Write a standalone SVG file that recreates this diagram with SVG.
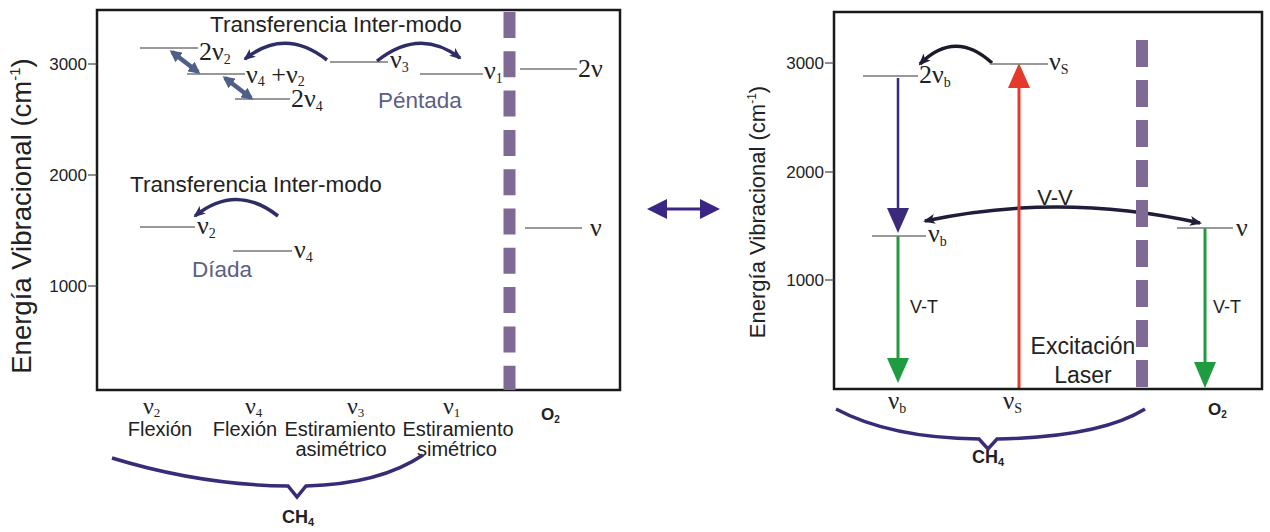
<svg xmlns="http://www.w3.org/2000/svg" width="1270" height="532" viewBox="0 0 1270 532">
<style>
.box{fill:none;stroke:#1a1a1a;stroke-width:2.5}
.tick{stroke:#444;stroke-width:1.2}
.lvl{stroke:#777;stroke-width:1.3}
.sans{font-family:"Liberation Sans",Arial,sans-serif;fill:#222}
.serif{font-family:"Liberation Serif","Times New Roman",serif;fill:#222}
.ax{font-size:17px;text-anchor:end}
.lv{font-size:26px}
.sub{font-size:14px}
.dash{stroke:#7e6a95;stroke-width:12;stroke-dasharray:26 13.3}
.arc{fill:none;stroke:#2f2d66;stroke-width:3.5}
.dbl{stroke:#4f5f88;stroke-width:4.5}
.brace{fill:none;stroke:#3a2a78;stroke-width:3.5;stroke-linejoin:miter}
.group{fill:#5b6084;font-size:22.5px}
</style>
<defs>
<marker id="ah" markerUnits="userSpaceOnUse" viewBox="0 0 12 10" markerWidth="12" markerHeight="10" refX="10" refY="5" orient="auto-start-reverse">
<path d="M0,0 L12,5 L0,10 L3,5 z" fill="#2f2d66"/>
</marker>
<marker id="ahk" markerUnits="userSpaceOnUse" viewBox="0 0 12 10" markerWidth="12" markerHeight="10" refX="10" refY="5" orient="auto-start-reverse">
<path d="M0,0 L12,5 L0,10 L3,5 z" fill="#1f1d3a"/>
</marker>
<marker id="sb" markerUnits="userSpaceOnUse" viewBox="0 0 12 12" markerWidth="12" markerHeight="12" refX="9" refY="6" orient="auto-start-reverse">
<path d="M0,0 L12,6 L0,12 z" fill="#4f5f88"/>
</marker>
</defs>

<!-- LEFT PANEL -->
<g id="left-axes">
<rect class="box" x="97" y="10" width="523" height="380"/>
<line class="tick" x1="88" y1="64" x2="97" y2="64"/>
<line class="tick" x1="88" y1="175" x2="97" y2="175"/>
<line class="tick" x1="88" y1="286" x2="97" y2="286"/>
<text class="sans ax" x="87" y="70">3000</text>
<text class="sans ax" x="87" y="181">2000</text>
<text class="sans ax" x="87" y="292">1000</text>
<text class="sans" font-size="27.5" text-anchor="middle" transform="translate(31,216) rotate(-90)">Energía Vibracional (cm<tspan font-size="15" dy="-11">-1</tspan><tspan dy="11">)</tspan></text>
<line class="dash" x1="509.5" y1="12" x2="509.5" y2="390"/>
</g>

<g id="left-levels">
<line class="lvl" x1="140" y1="48" x2="198" y2="48"/>
<text class="serif lv" x="199" y="60">2ν<tspan class="sub" dy="4">2</tspan></text>
<line class="lvl" x1="187" y1="74" x2="245" y2="74"/>
<text class="serif lv" x="246" y="83">ν<tspan class="sub" dy="3">4</tspan><tspan dy="-3"> +ν</tspan><tspan class="sub" dy="3">2</tspan></text>
<line class="lvl" x1="235" y1="99" x2="290" y2="99"/>
<text class="serif lv" x="291" y="107">2ν<tspan class="sub" dy="4">4</tspan></text>
<line class="lvl" x1="330" y1="62" x2="388" y2="62"/>
<text class="serif lv" x="390" y="68">ν<tspan class="sub" dy="4">3</tspan></text>
<line class="lvl" x1="420" y1="74" x2="483" y2="74"/>
<text class="serif lv" x="484" y="79">ν<tspan class="sub" dy="4">1</tspan></text>
<line class="lvl" x1="520" y1="69" x2="577" y2="69"/>
<text class="serif lv" x="578" y="77">2ν</text>
<line class="lvl" x1="525" y1="228" x2="582" y2="228"/>
<text class="serif lv" x="590" y="236">ν</text>
<line class="lvl" x1="140" y1="227" x2="195" y2="227"/>
<text class="serif lv" x="197" y="234">ν<tspan class="sub" dy="4">2</tspan></text>
<line class="lvl" x1="233" y1="251" x2="292" y2="251"/>
<text class="serif lv" x="294" y="258">ν<tspan class="sub" dy="4">4</tspan></text>
</g>

<g id="left-labels">
<text class="sans" x="210" y="32" font-size="22.5">Transferencia Inter-modo</text>
<text class="sans group" x="378" y="108">Péntada</text>
<text class="sans" x="130" y="192" font-size="22.5">Transferencia Inter-modo</text>
<text class="sans group" x="192" y="277">Díada</text>
</g>

<g id="left-bottom">
<text class="serif" font-size="24" x="143" y="414">ν<tspan font-size="13" dy="3">2</tspan></text>
<text class="sans" x="160" y="436" font-size="20" text-anchor="middle">Flexión</text>
<text class="serif" font-size="24" x="245" y="414">ν<tspan font-size="13" dy="3">4</tspan></text>
<text class="sans" x="245" y="436" font-size="20" text-anchor="middle">Flexión</text>
<text class="serif" font-size="24" x="347" y="414">ν<tspan font-size="13" dy="3">3</tspan></text>
<text class="sans" x="340" y="436" font-size="20" text-anchor="middle">Estiramiento</text>
<text class="sans" x="341" y="456" font-size="20" text-anchor="middle">asimétrico</text>
<text class="serif" font-size="24" x="443" y="414">ν<tspan font-size="13" dy="3">1</tspan></text>
<text class="sans" x="458" y="436" font-size="20" text-anchor="middle">Estiramiento</text>
<text class="sans" x="457" y="456" font-size="20" text-anchor="middle">simétrico</text>
<text class="sans" x="541" y="420" font-size="17" font-weight="bold">O<tspan font-size="10" dy="3">2</tspan></text>
<text class="sans" x="282" y="523" font-size="18" font-weight="bold">CH<tspan font-size="11" dy="3">4</tspan></text>
</g>

<g id="connectors">
<path class="arc" d="M 327 60 Q 285 27 245 59" marker-end="url(#ah)"/>
<path class="arc" d="M 377 61 Q 420 27 460 58" marker-end="url(#ah)"/>
<path class="arc" d="M 278 216 Q 236 183 195 216" marker-end="url(#ah)"/>
<line class="dbl" x1="172" y1="52" x2="198" y2="72" marker-start="url(#sb)" marker-end="url(#sb)"/>
<line class="dbl" x1="225" y1="78" x2="251" y2="98" marker-start="url(#sb)" marker-end="url(#sb)"/>
<path class="brace" d="M 112 458 Q 200 485 288 486 L 297 497 L 306 486 Q 380 484 423 455"/>
<path d="M 647 209 L 667 199 L 667 207.5 L 700 207.5 L 700 199 L 720 209 L 700 219 L 700 210.5 L 667 210.5 L 667 219 z" fill="#3b2585"/>
<path fill="none" stroke="#1a1a2a" stroke-width="3.5" d="M 992 63 Q 955 29 920 64" marker-end="url(#ahk)"/>
<path fill="none" stroke="#1f1d3a" stroke-width="3.5" d="M 925 221 Q 1060 192 1200 223" marker-start="url(#ahk)" marker-end="url(#ahk)"/>
<line x1="1019" y1="388" x2="1019" y2="84" stroke="#e53a2a" stroke-width="3"/>
<polygon points="1019,63 1030,88 1008,88" fill="#e53a2a"/>
<line x1="898" y1="78" x2="898" y2="212" stroke="#3b2a7a" stroke-width="2.5"/>
<polygon points="887,208 909,208 898,233" fill="#3b2a7a"/>
<line x1="898" y1="236" x2="898" y2="362" stroke="#1f9b40" stroke-width="3"/>
<polygon points="887,358 909,358 898,383" fill="#1f9b40"/>
<line x1="1205" y1="228" x2="1205" y2="364" stroke="#1f9b40" stroke-width="3"/>
<polygon points="1194,362 1216,362 1205,388" fill="#1f9b40"/>
<path class="brace" d="M 836 409 Q 890 438 979 439 L 988 449 L 997 439 Q 1100 437 1145 409"/>
</g>

<!-- RIGHT PANEL -->
<g id="right-axes">
<rect class="box" x="834" y="12" width="428" height="377"/>
<line class="tick" x1="825" y1="63" x2="834" y2="63"/>
<line class="tick" x1="825" y1="172" x2="834" y2="172"/>
<line class="tick" x1="825" y1="280" x2="834" y2="280"/>
<text class="sans ax" x="824" y="69">3000</text>
<text class="sans ax" x="824" y="178">2000</text>
<text class="sans ax" x="824" y="286">1000</text>
<text class="sans" font-size="22" text-anchor="middle" transform="translate(765,212) rotate(-90)">Energía Vibracional (cm<tspan font-size="12" dy="-9">-1</tspan><tspan dy="9">)</tspan></text>
<line class="dash" x1="1142" y1="40" x2="1142" y2="388" style="stroke-dasharray:27 13"/>
</g>

<g id="right-levels">
<line class="lvl" x1="863" y1="76" x2="918" y2="76"/>
<text class="serif lv" x="919" y="83">2ν<tspan class="sub" dy="4">b</tspan></text>
<line class="lvl" x1="990" y1="64" x2="1048" y2="64"/>
<text class="serif lv" x="1049" y="70">ν<tspan class="sub" dy="4">S</tspan></text>
<line class="lvl" x1="872" y1="236" x2="926" y2="236"/>
<text class="serif lv" x="928" y="242">ν<tspan class="sub" dy="4">b</tspan></text>
<line class="lvl" x1="1177" y1="228" x2="1233" y2="228"/>
<text class="serif lv" x="1236" y="236">ν</text>
</g>

<g id="right-labels">
<text class="sans" x="1055" y="205" font-size="22" text-anchor="middle">V-V</text>
<text class="sans" x="924" y="313" font-size="18" text-anchor="middle">V-T</text>
<text class="sans" x="1227" y="313" font-size="18" text-anchor="middle">V-T</text>
<text class="sans" x="1083" y="354" font-size="23" text-anchor="middle">Excitación</text>
<text class="sans" x="1083" y="383" font-size="23" text-anchor="middle">Laser</text>
<text class="serif" font-size="25" x="888" y="409">ν<tspan font-size="14" dy="4">b</tspan></text>
<text class="serif" font-size="25" x="1003" y="409">ν<tspan font-size="14" dy="4">S</tspan></text>
<text class="sans" x="1208" y="415" font-size="17" font-weight="bold">O<tspan font-size="10" dy="3">2</tspan></text>
<text class="sans" x="972" y="463" font-size="18" font-weight="bold">CH<tspan font-size="11" dy="3">4</tspan></text>
</g>
</svg>
